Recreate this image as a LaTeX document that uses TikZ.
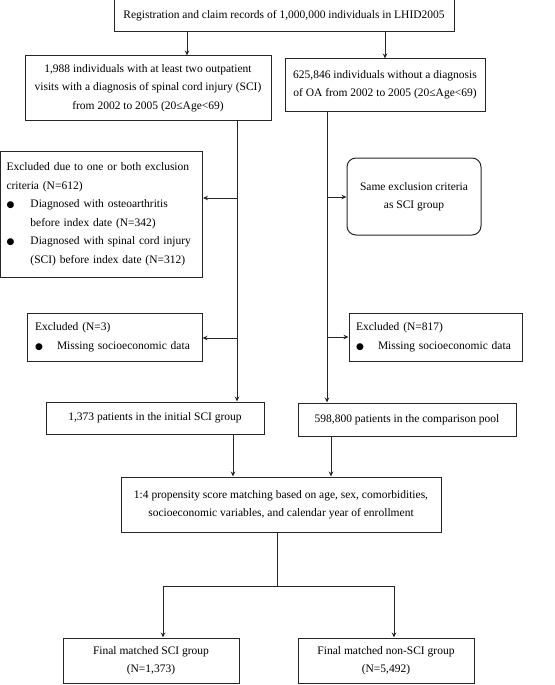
\documentclass[tikz,border=0pt]{standalone}
\usepackage{fontspec}
\setmainfont{Liberation Serif}
\newfontfamily\symfont{DejaVu Sans}
\newcommand{\blt}{{\symfont\fontsize{9}{9}\selectfont ●}}
\usetikzlibrary{arrows.meta}

\begin{document}
\begin{tikzpicture}[x=1pt, y=-1pt,
    stage/.style = {draw=black!85, line width=1pt, inner sep=0pt, align=center,
                    font=\fontsize{11.5}{18.5}\selectfont},
    excl/.style = {stage, align=left},
    arr/.style = {line width=1pt, draw=black!85, -{Stealth[length=5pt,width=4.5pt]}}]
      \useasboundingbox (0,0) rectangle (554,685);

      \node[stage, minimum width=340pt, minimum height=32pt] (top) at (284,16)
        {Registration and claim records of 1,000,000 individuals in LHID2005};
      \node[stage, minimum width=246pt, minimum height=64pt] (sci) at (148,88)
        {1,988 individuals with at least two outpatient\\visits with a diagnosis of spinal cord injury (SCI)\\from 2002 to 2005 (20≤Age<69)};
      \node[stage, minimum width=200pt, minimum height=52pt] (nonsci) at (385,85)
        {625,846 individuals without a diagnosis\\of OA from 2002 to 2005 (20≤Age<69)};
      \node[excl, minimum width=202pt, minimum height=126pt, text width=190pt] (exA) at (101.5,214)
        {Excluded due to one or both exclusion\\criteria (N=612)\\
         \makebox[24pt][l]{\blt}Diagnosed with osteoarthritis\\
         \hspace*{24pt}before index date (N=342)\\
         \makebox[24pt][l]{\blt}Diagnosed with spinal cord injury\\
         \hspace*{24pt}(SCI) before index date (N=312)};
      \node[stage, rounded corners=9pt, minimum width=134pt, minimum height=77pt] (same) at (414,196.5)
        {Same exclusion criteria\\as SCI group};
      \node[excl, minimum width=175pt, minimum height=48pt, text width=159pt] (exB) at (114.5,337)
        {Excluded (N=3)\\\makebox[22pt][l]{\blt}Missing socioeconomic data};
      \node[excl, minimum width=173pt, minimum height=48pt, text width=159pt] (exC) at (435.5,337)
        {Excluded (N=817)\\\makebox[22pt][l]{\blt}Missing socioeconomic data};
      \node[stage, minimum width=218pt, minimum height=32pt] (init) at (155,418)
        {1,373 patients in the initial SCI group};
      \node[stage, minimum width=218pt, minimum height=33pt] (pool) at (407,419.5)
        {598,800 patients in the comparison pool};
      \node[stage, minimum width=320pt, minimum height=55pt] (match) at (281,504.5)
        {1:4 propensity score matching based on age, sex, comorbidities,\\socioeconomic variables, and calendar year of enrollment};
      \node[stage, minimum width=176pt, minimum height=45pt] (finA) at (151,660.5)
        {Final matched SCI group\\(N=1,373)};
      \node[stage, minimum width=176pt, minimum height=45pt] (finB) at (386,660.5)
        {Final matched non-SCI group\\(N=5,492)};

      % trunks and branch points
      \coordinate (tL) at (187,0);
      \coordinate (tR) at (385,0);
      \coordinate (kL) at (237,0);
      \coordinate (kR) at (327,0);
      \coordinate (bA) at (237,198);
      \coordinate (bS) at (327,197);
      \coordinate (bB) at (237,338);
      \coordinate (bC) at (327,337);
      \coordinate (mL) at (233,0);
      \coordinate (mR) at (331,0);
      \coordinate (hub) at (277,586);

      \draw[arr] (top.south -| tL) -- (sci.north -| tL);
      \draw[arr] (top.south -| tR) -- (nonsci.north -| tR);
      \draw[arr] (sci.south -| kL) -- (init.north -| kL);
      \draw[arr] (nonsci.south -| kR) -- (pool.north -| kR);
      \draw[arr] (bA) -- (bA -| exA.east);
      \draw[arr] (bS) -- (bS -| same.west);
      \draw[arr] (bB) -- (bB -| exB.east);
      \draw[arr] (bC) -- (bC -| exC.west);
      \draw[arr] (init.south -| mL) -- (match.north -| mL);
      \draw[arr] (pool.south -| mR) -- (match.north -| mR);
      \draw[line width=1pt, draw=black!85] (match.south -| hub) -- (hub);
      \draw[arr] (hub) -| ([xshift=12pt]finA.north);
      \draw[arr] (hub) -| ([xshift=8pt]finB.north);
    \end{tikzpicture}
\end{document}
